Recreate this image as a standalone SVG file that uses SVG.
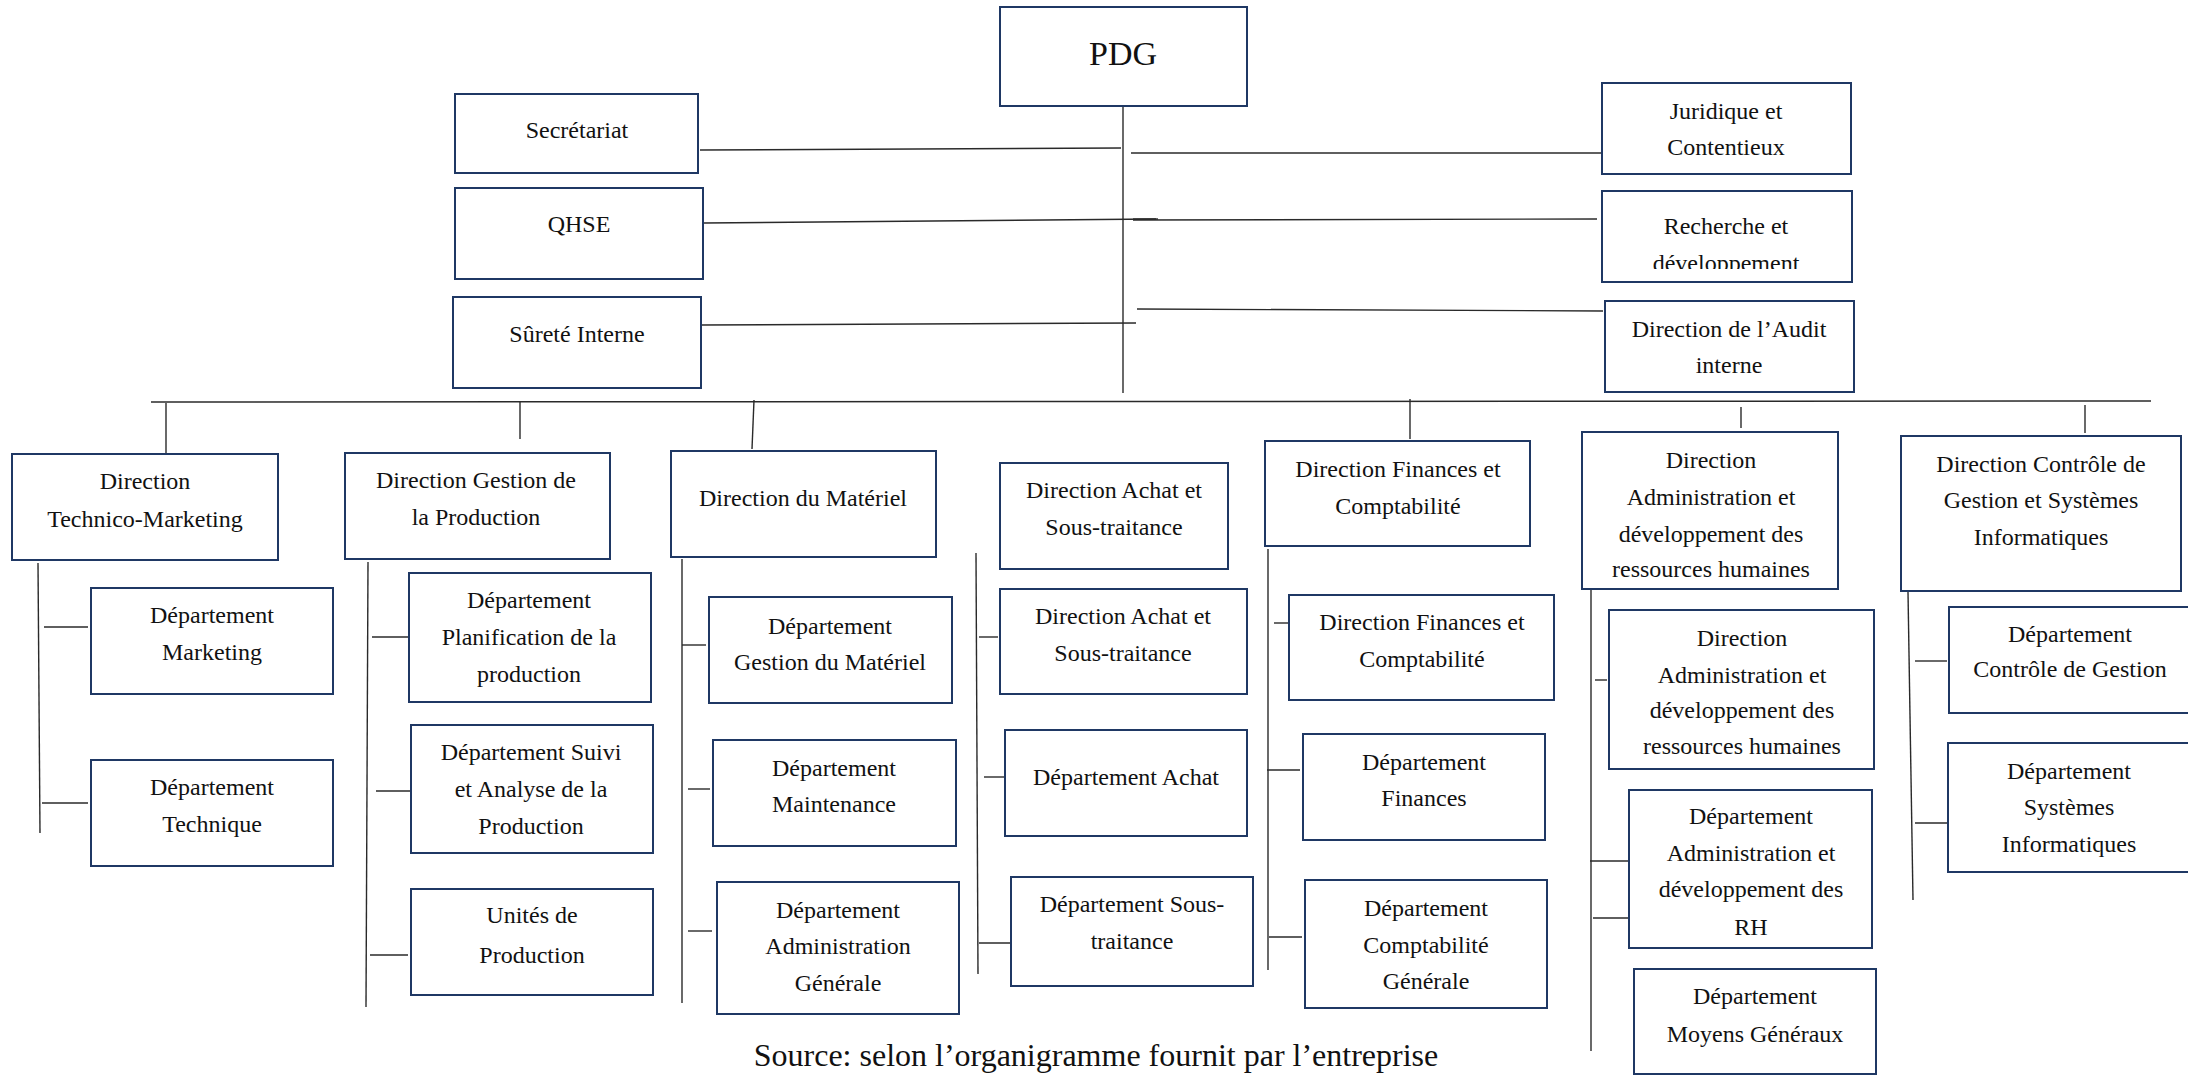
<svg xmlns="http://www.w3.org/2000/svg" width="2188" height="1075" viewBox="0 0 2188 1075">
  <style>
    .box { fill: #ffffff; stroke: #1F3864; stroke-width: 2; }
    .t { font-family: "Liberation Serif", "Times New Roman", serif; font-size: 24px; fill: #111111; text-anchor: middle; }
    .big { font-size: 34px; }
    .ln { stroke: #2a2a2a; stroke-width: 1.4; fill: none; stroke-linecap: butt; }
    .cap { font-family: "Liberation Serif", "Times New Roman", serif; font-size: 32px; fill: #111111; text-anchor: middle; }
  </style>
  <defs>
    <clipPath id="clip-rd">
      <rect x="1603" y="192" width="248" height="77"/>
    </clipPath>
  </defs>
  <rect width="2188" height="1075" fill="#ffffff"/>

  <!-- connectors -->
  <g id="connectors">
    <!-- top level -->
    <line class="ln" x1="1123" y1="106" x2="1123" y2="393"/>
    <line class="ln" x1="700" y1="150" x2="1121" y2="148"/>
    <line class="ln" x1="704" y1="223" x2="1156" y2="219"/>
    <line class="ln" x1="1133" y1="219" x2="1158" y2="219" stroke-width="3"/>
    <line class="ln" x1="701" y1="325" x2="1136" y2="323"/>
    <line class="ln" x1="1131" y1="153" x2="1606" y2="153"/>
    <line class="ln" x1="1133" y1="220" x2="1597" y2="219"/>
    <line class="ln" x1="1137" y1="309" x2="1603" y2="311"/>
    <!-- main bus -->
    <line class="ln" x1="151" y1="402" x2="2151" y2="401"/>
    <line class="ln" x1="166" y1="403" x2="166" y2="453"/>
    <line class="ln" x1="520" y1="401" x2="520" y2="439"/>
    <line class="ln" x1="754" y1="400" x2="752" y2="449"/>
    <line class="ln" x1="1410" y1="399" x2="1410" y2="439"/>
    <line class="ln" x1="1741" y1="407" x2="1741" y2="428"/>
    <line class="ln" x1="2085" y1="405" x2="2085" y2="433"/>
    <!-- Technico-Marketing column -->
    <line class="ln" x1="38" y1="563" x2="40" y2="833"/>
    <line class="ln" x1="44" y1="627" x2="88" y2="627"/>
    <line class="ln" x1="42" y1="803" x2="88" y2="803"/>
    <!-- Gestion de la Production column -->
    <line class="ln" x1="368" y1="562" x2="366" y2="1007"/>
    <line class="ln" x1="372" y1="637" x2="409" y2="637"/>
    <line class="ln" x1="376" y1="791" x2="411" y2="791"/>
    <line class="ln" x1="370" y1="955" x2="408" y2="955"/>
    <!-- Matériel column -->
    <line class="ln" x1="682" y1="559" x2="682" y2="1003"/>
    <line class="ln" x1="682" y1="645" x2="706" y2="645"/>
    <line class="ln" x1="688" y1="789" x2="710" y2="789"/>
    <line class="ln" x1="688" y1="931" x2="712" y2="931"/>
    <!-- Achat column -->
    <line class="ln" x1="976" y1="553" x2="978" y2="974"/>
    <line class="ln" x1="979" y1="637" x2="998" y2="637"/>
    <line class="ln" x1="984" y1="777" x2="1004" y2="777"/>
    <line class="ln" x1="979" y1="943" x2="1012" y2="943"/>
    <!-- Finances column -->
    <line class="ln" x1="1268" y1="549" x2="1268" y2="970"/>
    <line class="ln" x1="1274" y1="623" x2="1289" y2="623"/>
    <line class="ln" x1="1267" y1="770" x2="1300" y2="770"/>
    <line class="ln" x1="1269" y1="937" x2="1302" y2="937"/>
    <!-- RH column -->
    <line class="ln" x1="1591" y1="587" x2="1591" y2="1051"/>
    <line class="ln" x1="1595" y1="680" x2="1607" y2="680"/>
    <line class="ln" x1="1590" y1="861" x2="1630" y2="861"/>
    <line class="ln" x1="1593" y1="918" x2="1634" y2="918"/>
    <!-- Contrôle de Gestion column -->
    <line class="ln" x1="1908" y1="592" x2="1913" y2="900"/>
    <line class="ln" x1="1915" y1="661" x2="1947" y2="661"/>
    <line class="ln" x1="1915" y1="823" x2="1951" y2="823"/>
  </g>

  <!-- top management -->
  <g id="pdg">
    <rect class="box" x="1000" y="7" width="247" height="99"/>
    <text class="t big" x="1123" y="65">PDG</text>
  </g>
  <g id="secretariat">
    <rect class="box" x="455" y="94" width="243" height="79"/>
    <text class="t" x="577" y="138">Secrétariat</text>
  </g>
  <g id="qhse">
    <rect class="box" x="455" y="188" width="248" height="91"/>
    <text class="t" x="579" y="232">QHSE</text>
  </g>
  <g id="surete">
    <rect class="box" x="453" y="297" width="248" height="91"/>
    <text class="t" x="577" y="342">Sûreté Interne</text>
  </g>
  <g id="juridique">
    <rect class="box" x="1602" y="83" width="249" height="91"/>
    <text class="t"><tspan x="1726" y="119">Juridique et</tspan><tspan x="1726" y="155">Contentieux</tspan></text>
  </g>
  <g id="recherche">
    <rect class="box" x="1602" y="191" width="250" height="91"/>
    <text class="t" clip-path="url(#clip-rd)"><tspan x="1726" y="234">Recherche et</tspan><tspan x="1726" y="271">développement</tspan></text>
  </g>
  <g id="audit">
    <rect class="box" x="1605" y="301" width="249" height="91"/>
    <text class="t"><tspan x="1729" y="337">Direction de l’Audit</tspan><tspan x="1729" y="373">interne</tspan></text>
  </g>

  <!-- directions -->
  <g id="dir-technico-marketing">
    <rect class="box" x="12" y="454" width="266" height="106"/>
    <text class="t"><tspan x="145" y="489">Direction</tspan><tspan x="145" y="527">Technico-Marketing</tspan></text>
  </g>
  <g id="dir-gestion-production">
    <rect class="box" x="345" y="453" width="265" height="106"/>
    <text class="t"><tspan x="476" y="488">Direction Gestion de</tspan><tspan x="476" y="525">la Production</tspan></text>
  </g>
  <g id="dir-materiel">
    <rect class="box" x="671" y="451" width="265" height="106"/>
    <text class="t" x="803" y="506">Direction du Matériel</text>
  </g>
  <g id="dir-achat">
    <rect class="box" x="1000" y="463" width="228" height="106"/>
    <text class="t"><tspan x="1114" y="498">Direction Achat et</tspan><tspan x="1114" y="535">Sous-traitance</tspan></text>
  </g>
  <g id="dir-finances">
    <rect class="box" x="1265" y="441" width="265" height="105"/>
    <text class="t"><tspan x="1398" y="477">Direction Finances et</tspan><tspan x="1398" y="514">Comptabilité</tspan></text>
  </g>
  <g id="dir-rh">
    <rect class="box" x="1582" y="432" width="256" height="157"/>
    <text class="t"><tspan x="1711" y="468">Direction</tspan><tspan x="1711" y="505">Administration et</tspan><tspan x="1711" y="542">développement des</tspan><tspan x="1711" y="577">ressources humaines</tspan></text>
  </g>
  <g id="dir-controle">
    <rect class="box" x="1901" y="436" width="280" height="155"/>
    <text class="t"><tspan x="2041" y="472">Direction Contrôle de</tspan><tspan x="2041" y="508">Gestion et Systèmes</tspan><tspan x="2041" y="545">Informatiques</tspan></text>
  </g>

  <!-- Technico-Marketing departments -->
  <g id="dep-marketing">
    <rect class="box" x="91" y="588" width="242" height="106"/>
    <text class="t"><tspan x="212" y="623">Département</tspan><tspan x="212" y="660">Marketing</tspan></text>
  </g>
  <g id="dep-technique">
    <rect class="box" x="91" y="760" width="242" height="106"/>
    <text class="t"><tspan x="212" y="795">Département</tspan><tspan x="212" y="832">Technique</tspan></text>
  </g>

  <!-- Production departments -->
  <g id="dep-planification">
    <rect class="box" x="409" y="573" width="242" height="129"/>
    <text class="t"><tspan x="529" y="608">Département</tspan><tspan x="529" y="645">Planification de la</tspan><tspan x="529" y="682">production</tspan></text>
  </g>
  <g id="dep-suivi">
    <rect class="box" x="411" y="725" width="242" height="128"/>
    <text class="t"><tspan x="531" y="760">Département Suivi</tspan><tspan x="531" y="797">et Analyse de la</tspan><tspan x="531" y="834">Production</tspan></text>
  </g>
  <g id="unites-production">
    <rect class="box" x="411" y="889" width="242" height="106"/>
    <text class="t"><tspan x="532" y="923">Unités de</tspan><tspan x="532" y="963">Production</tspan></text>
  </g>

  <!-- Matériel departments -->
  <g id="dep-gestion-materiel">
    <rect class="box" x="709" y="597" width="243" height="106"/>
    <text class="t"><tspan x="830" y="634">Département</tspan><tspan x="830" y="670">Gestion du Matériel</tspan></text>
  </g>
  <g id="dep-maintenance">
    <rect class="box" x="713" y="740" width="243" height="106"/>
    <text class="t"><tspan x="834" y="776">Département</tspan><tspan x="834" y="812">Maintenance</tspan></text>
  </g>
  <g id="dep-admin-generale">
    <rect class="box" x="717" y="882" width="242" height="132"/>
    <text class="t"><tspan x="838" y="918">Département</tspan><tspan x="838" y="954">Administration</tspan><tspan x="838" y="991">Générale</tspan></text>
  </g>

  <!-- Achat departments -->
  <g id="dir-achat-2">
    <rect class="box" x="1000" y="589" width="247" height="105"/>
    <text class="t"><tspan x="1123" y="624">Direction Achat et</tspan><tspan x="1123" y="661">Sous-traitance</tspan></text>
  </g>
  <g id="dep-achat">
    <rect class="box" x="1005" y="730" width="242" height="106"/>
    <text class="t" x="1126" y="785">Département Achat</text>
  </g>
  <g id="dep-sous-traitance">
    <rect class="box" x="1011" y="877" width="242" height="109"/>
    <text class="t"><tspan x="1132" y="912">Département Sous-</tspan><tspan x="1132" y="949">traitance</tspan></text>
  </g>

  <!-- Finances departments -->
  <g id="dir-finances-2">
    <rect class="box" x="1289" y="595" width="265" height="105"/>
    <text class="t"><tspan x="1422" y="630">Direction Finances et</tspan><tspan x="1422" y="667">Comptabilité</tspan></text>
  </g>
  <g id="dep-finances">
    <rect class="box" x="1303" y="734" width="242" height="106"/>
    <text class="t"><tspan x="1424" y="770">Département</tspan><tspan x="1424" y="806">Finances</tspan></text>
  </g>
  <g id="dep-comptabilite">
    <rect class="box" x="1305" y="880" width="242" height="128"/>
    <text class="t"><tspan x="1426" y="916">Département</tspan><tspan x="1426" y="953">Comptabilité</tspan><tspan x="1426" y="989">Générale</tspan></text>
  </g>

  <!-- RH departments -->
  <g id="dir-rh-2">
    <rect class="box" x="1609" y="610" width="265" height="159"/>
    <text class="t"><tspan x="1742" y="646">Direction</tspan><tspan x="1742" y="683">Administration et</tspan><tspan x="1742" y="718">développement des</tspan><tspan x="1742" y="754">ressources humaines</tspan></text>
  </g>
  <g id="dep-admin-rh">
    <rect class="box" x="1629" y="790" width="243" height="158"/>
    <text class="t"><tspan x="1751" y="824">Département</tspan><tspan x="1751" y="861">Administration et</tspan><tspan x="1751" y="897">développement des</tspan><tspan x="1751" y="935">RH</tspan></text>
  </g>
  <g id="dep-moyens-generaux">
    <rect class="box" x="1634" y="969" width="242" height="105"/>
    <text class="t"><tspan x="1755" y="1004">Département</tspan><tspan x="1755" y="1042">Moyens Généraux</tspan></text>
  </g>

  <!-- Contrôle de Gestion departments -->
  <g id="dep-controle-gestion">
    <rect class="box" x="1949" y="607" width="245" height="106"/>
    <text class="t"><tspan x="2070" y="642">Département</tspan><tspan x="2070" y="677">Contrôle de Gestion</tspan></text>
  </g>
  <g id="dep-systemes-info">
    <rect class="box" x="1948" y="743" width="246" height="129"/>
    <text class="t"><tspan x="2069" y="779">Département</tspan><tspan x="2069" y="815">Systèmes</tspan><tspan x="2069" y="852">Informatiques</tspan></text>
  </g>

  <text class="cap" x="1096" y="1066">Source: selon l’organigramme fournit par l’entreprise</text>
</svg>
